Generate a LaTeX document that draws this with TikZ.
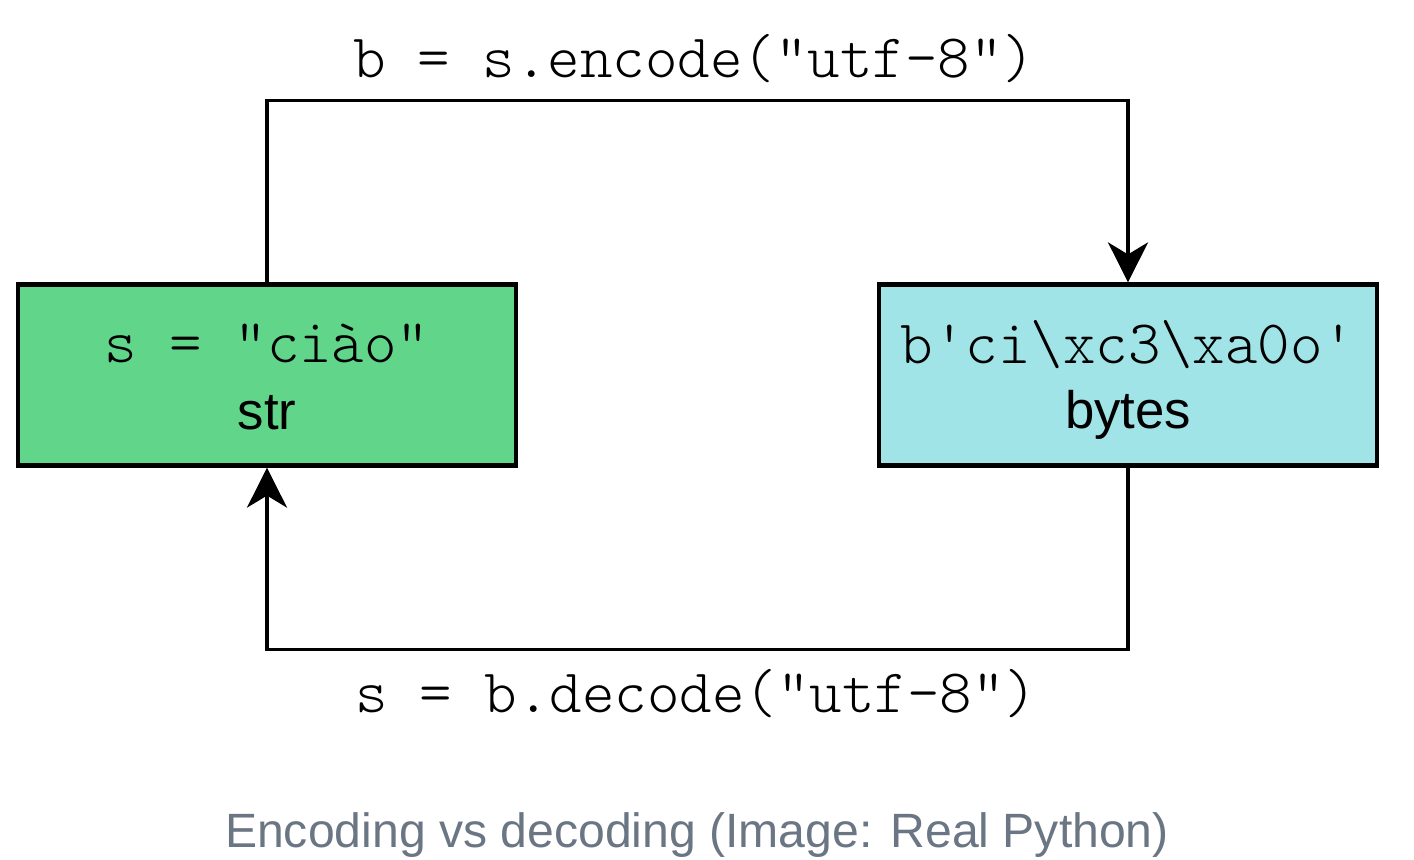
\documentclass[tikz,border=0pt]{standalone}
\usepackage{fontspec}
\setsansfont{Liberation Sans}
\setmonofont{Latin Modern Mono Light}
\usepackage{xcolor}
\usetikzlibrary{arrows.meta}
\definecolor{cgreen}{HTML}{61D68A}
\definecolor{ccyan}{HTML}{A0E4E8}
\definecolor{cgray}{HTML}{6B7684}

\begin{document}
\begin{tikzpicture}[
		box/.style={draw=black, line width=1.2pt, minimum width=4.98cm, minimum height=1.81cm, inner sep=0pt},
		code/.style={font=\fontsize{17.6}{20}\ttfamily, inner sep=0pt, anchor=base},
		kind/.style={font=\fontsize{15}{18}\sffamily, inner sep=0pt, anchor=base},
		flow/.style={line width=0.9pt, -{Stealth[length=0.4cm, width=0.4cm, inset=0.12cm]}}
	]
			\useasboundingbox (0,0) rectangle (14.14,-8.6);

			\node[box, fill=cgreen] (strbox) at (2.67,-3.75) {};
			\node[box, fill=ccyan] (bytesbox) at (11.28,-3.75) {};

			\node[code] (strval) at ([yshift=0.13cm]strbox.center) {s = "ciào"};
			\node[kind] (strtype) at ([yshift=-0.54cm]strbox.center) {str};
			\node[code] (bytesval) at ([yshift=0.12cm]bytesbox.center) {b'ci\textbackslash xc3\textbackslash xa0o'};
			\node[kind] (bytestype) at ([yshift=-0.53cm]bytesbox.center) {bytes};

			\draw[flow] (strbox.north) -- ++(0,1.82) -| (bytesbox.north);
			\draw[flow] (bytesbox.south) -- ++(0,-1.82) -| (strbox.south);

			\node[code] (enclbl) at (6.94,-0.77) {b = s.encode("utf-8")};
			\node[code] (declbl) at (6.96,-7.12) {s = b.decode("utf-8")};

			\node[font=\fontsize{13.7}{16}\sffamily, text=cgray, inner sep=0pt, anchor=base] (caption) at (6.97,-8.47) {Encoding vs decoding (Image: Real Python)};
		\end{tikzpicture}
\end{document}
